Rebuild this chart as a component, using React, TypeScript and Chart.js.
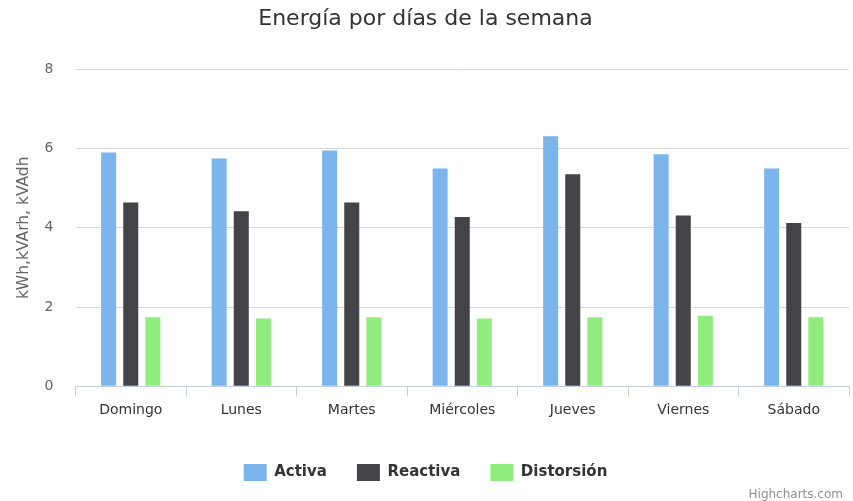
import React, { useEffect, useRef } from "react";
import { Chart, registerables } from "chart.js";

Chart.register(...registerables);

const categories = ["Domingo", "Lunes", "Martes", "Miércoles", "Jueves", "Viernes", "Sábado"];
const activa = [5.9, 5.75, 5.95, 5.5, 6.31, 5.86, 5.5];
const reactiva = [4.64, 4.42, 4.64, 4.27, 5.35, 4.31, 4.12];
const distorsion = [1.74, 1.71, 1.74, 1.71, 1.74, 1.78, 1.74];
const yTicks = [0, 2, 4, 6, 8];

const FONT = "'DejaVu Sans', Verdana, Arial, sans-serif";

const creditsPlugin = {
  id: "credits",
  afterDraw(chart: any) {
    const ctx = chart.ctx;
    ctx.save();
    ctx.font = `12px ${FONT}`;
    ctx.fillStyle = "#909090";
    ctx.textAlign = "right";
    ctx.textBaseline = "alphabetic";
    ctx.fillText("Highcharts.com", chart.width - 10, chart.height - 3);
    ctx.restore();
  },
};

export default function App() {
  const ref = useRef<HTMLCanvasElement>(null);
  useEffect(() => {
    if (!ref.current) return;
    const chart = new Chart(ref.current, {
      type: "bar",
      data: {
        labels: categories,
        datasets: [
          { label: "Activa", data: activa, backgroundColor: "#7cb5ec" },
          { label: "Reactiva", data: reactiva, backgroundColor: "#434348" },
          { label: "Distorsión", data: distorsion, backgroundColor: "#90ed7d" },
        ],
      },
      options: {
        animation: false,
        responsive: true,
        maintainAspectRatio: false,
        datasets: {
          bar: { categoryPercentage: 0.6, barPercentage: 0.68 },
        },
        layout: { padding: { left: 2, right: 4, top: 0, bottom: 10 } },
        plugins: {
          title: {
            display: true,
            text: "Energía por días de la semana",
            color: "#333333",
            font: { family: FONT, size: 22, weight: "normal" },
            padding: { top: 6, bottom: 37 },
          },
          legend: {
            position: "bottom",
            labels: {
              color: "#333333",
              font: { family: FONT, size: 15, weight: "bold" },
              boxWidth: 23,
              boxHeight: 17,
              padding: 30,
            },
          },
          tooltip: { enabled: false },
        },
        scales: {
          x: {
            grid: {
              offset: true,
              drawOnChartArea: false,
              drawTicks: true,
              tickLength: 10,
              color: "#C0D0E0",
            },
            border: { color: "#C0D0E0" },
            ticks: { color: "#333333", font: { family: FONT, size: 14 }, padding: 6 },
            afterFit: (axis: any) => {
              axis.height += 9;
            },
          },
          y: {
            min: 0,
            max: 8,
            afterBuildTicks: (axis: any) => {
              axis.ticks = yTicks.map((v) => ({ value: v }));
            },
            grid: { color: "#D8D8D8", drawTicks: false },
            border: { display: false },
            ticks: { color: "#666666", font: { family: FONT, size: 14 }, padding: 22 },
            title: {
              display: true,
              text: "kWh,kVArh, kVAdh",
              color: "#666666",
              font: { family: FONT, size: 15.5 },
              padding: { top: 13, bottom: -11 },
            },
          },
        },
      },
      plugins: [creditsPlugin],
    });
    return () => chart.destroy();
  }, []);
  return (
    <div style={{ position: "fixed", left: 0, top: 0, width: 853, height: 501 }}>
      <canvas ref={ref} />
    </div>
  );
}
